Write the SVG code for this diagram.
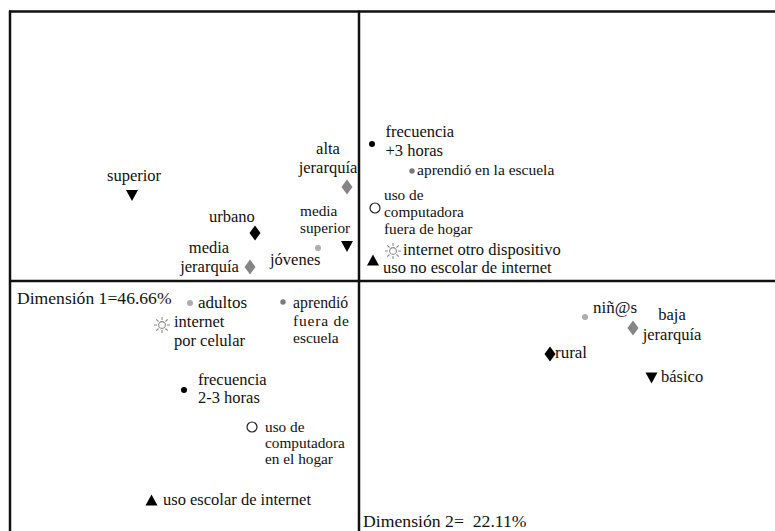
<svg xmlns="http://www.w3.org/2000/svg" xmlns:xlink="http://www.w3.org/1999/xlink" width="775" height="531" viewBox="0 0 775 531" font-family="'Liberation Serif', 'DejaVu Serif', serif">
<style>
text{font-family:'Liberation Serif','DejaVu Serif',serif;font-size:16.5px;fill:#111}
.s{font-size:15.3px}
.m{text-anchor:middle}
.ax{stroke:#111;stroke-width:2.5;fill:none}
.blk{fill:#000}
.gry{fill:#858585}
.lg{fill:#adadad}
.dg{fill:#7a7a7a}
.oc{fill:#fff;stroke:#222;stroke-width:1.2}
.sun{fill:none;stroke:#8a8a8a;stroke-width:1.1}
</style>
<defs>
<path id="dia" d="M0,-7.5 L5.5,0 L0,7.5 L-5.5,0 Z"/>
<path id="tdn" d="M-6,-5.5 L6,-5.5 L0,5.5 Z"/>
<path id="tup" d="M0,-5.5 L6,5.5 L-6,5.5 Z"/>
<g id="sunsym">
<circle r="3.4"/>
<path d="M0,-5 V-8 M0,5 V8 M-5,0 H-8 M5,0 H8 M3.5,-3.5 L5.7,-5.7 M-3.5,-3.5 L-5.7,-5.7 M3.5,3.5 L5.7,5.7 M-3.5,3.5 L-5.7,5.7"/>
</g>
</defs>
<rect width="775" height="531" fill="#fff"/>
<g id="axes">
<line class="ax" x1="9" y1="11.5" x2="775" y2="11.5"/>
<line class="ax" x1="10" y1="10.5" x2="10" y2="531"/>
<line class="ax" x1="359" y1="10.5" x2="359" y2="531"/>
<line class="ax" x1="9" y1="281" x2="775" y2="281"/>
</g>
<g id="dim1"><text x="17" y="304" style="font-size:17.6px">Dimensión 1=46.66%</text></g>
<g id="dim2"><text x="363" y="527" style="font-size:17.7px" xml:space="preserve">Dimensión 2=  22.11%</text></g>
<g id="superior">
<text x="107" y="181">superior</text>
<use xlink:href="#tdn" class="blk" x="132" y="195.5"/>
</g>
<g id="alta-jerarquia">
<text class="m" x="328" y="154">alta</text>
<text class="m" x="328" y="173">jerarquía</text>
<use xlink:href="#dia" class="gry" x="347" y="187"/>
</g>
<g id="urbano">
<text x="209" y="222">urbano</text>
<use xlink:href="#dia" class="blk" x="255" y="233"/>
</g>
<g id="media-superior">
<text class="s" x="300" y="216">media</text>
<text class="s" x="300" y="233">superior</text>
<use xlink:href="#tdn" class="blk" x="347" y="246.5"/>
</g>
<g id="jovenes">
<circle class="lg" cx="318" cy="248" r="3"/>
<text x="270" y="265">jóvenes</text>
</g>
<g id="media-jerarquia">
<text class="m" x="209" y="253">media</text>
<text class="m" x="209.5" y="272">jerarquía</text>
<use xlink:href="#dia" class="gry" x="250" y="267"/>
</g>
<g id="frecuencia-3">
<circle class="blk" cx="372" cy="144" r="3"/>
<text x="385.5" y="137">frecuencia</text>
<text x="385.5" y="156">+3 horas</text>
</g>
<g id="aprendio-escuela">
<circle class="dg" cx="412" cy="171" r="2.7"/>
<text x="417" y="175" style="font-size:15.5px">aprendió en la escuela</text>
</g>
<g id="computadora-fuera">
<circle class="oc" cx="375" cy="208" r="5"/>
<text class="s" x="384" y="200">uso de</text>
<text class="s" x="384" y="217">computadora</text>
<text class="s" x="384" y="233.5">fuera de hogar</text>
</g>
<g id="internet-otro">
<use xlink:href="#sunsym" class="sun" x="393" y="251"/>
<text x="403" y="255">internet otro dispositivo</text>
</g>
<g id="uso-no-escolar">
<use xlink:href="#tup" class="blk" x="373" y="260"/>
<text x="383" y="273">uso no escolar de internet</text>
</g>
<g id="adultos">
<circle class="lg" cx="190" cy="303" r="3"/>
<text x="198" y="308" style="font-size:17px">adultos</text>
</g>
<g id="aprendio-fuera">
<circle class="dg" cx="283" cy="302" r="2.7"/>
<text x="293" y="308" style="font-size:15.8px">aprendió</text>
<text x="293" y="326" style="font-size:15.5px" textLength="56" lengthAdjust="spacing">fuera de</text>
<text x="293" y="343" style="font-size:15.5px">escuela</text>
</g>
<g id="internet-celular">
<use xlink:href="#sunsym" class="sun" x="162" y="325"/>
<text x="174" y="327">internet</text>
<text x="174" y="346">por celular</text>
</g>
<g id="frecuencia-2-3">
<circle class="blk" cx="184" cy="390" r="3"/>
<text x="198" y="385">frecuencia</text>
<text x="198" y="403">2-3 horas</text>
</g>
<g id="computadora-hogar">
<circle class="oc" cx="252" cy="427" r="5"/>
<text class="s" x="265" y="431.5">uso de</text>
<text class="s" x="265" y="447.5">computadora</text>
<text class="s" x="265" y="464">en el hogar</text>
</g>
<g id="uso-escolar">
<use xlink:href="#tup" class="blk" x="151.5" y="500"/>
<text x="163" y="505">uso escolar de internet</text>
</g>
<g id="ninos">
<circle class="lg" cx="585" cy="317" r="3"/>
<text x="593" y="313" style="font-size:17px">niñ@s</text>
</g>
<g id="baja-jerarquia">
<use xlink:href="#dia" class="gry" x="633" y="328"/>
<text class="m" x="672" y="320">baja</text>
<text class="m" x="672" y="340">jerarquía</text>
</g>
<g id="rural">
<use xlink:href="#dia" class="blk" x="550" y="354"/>
<text x="555" y="358" style="font-size:17px">rural</text>
</g>
<g id="basico">
<use xlink:href="#tdn" class="blk" x="651.5" y="378"/>
<text x="661" y="382">básico</text>
</g>
</svg>
